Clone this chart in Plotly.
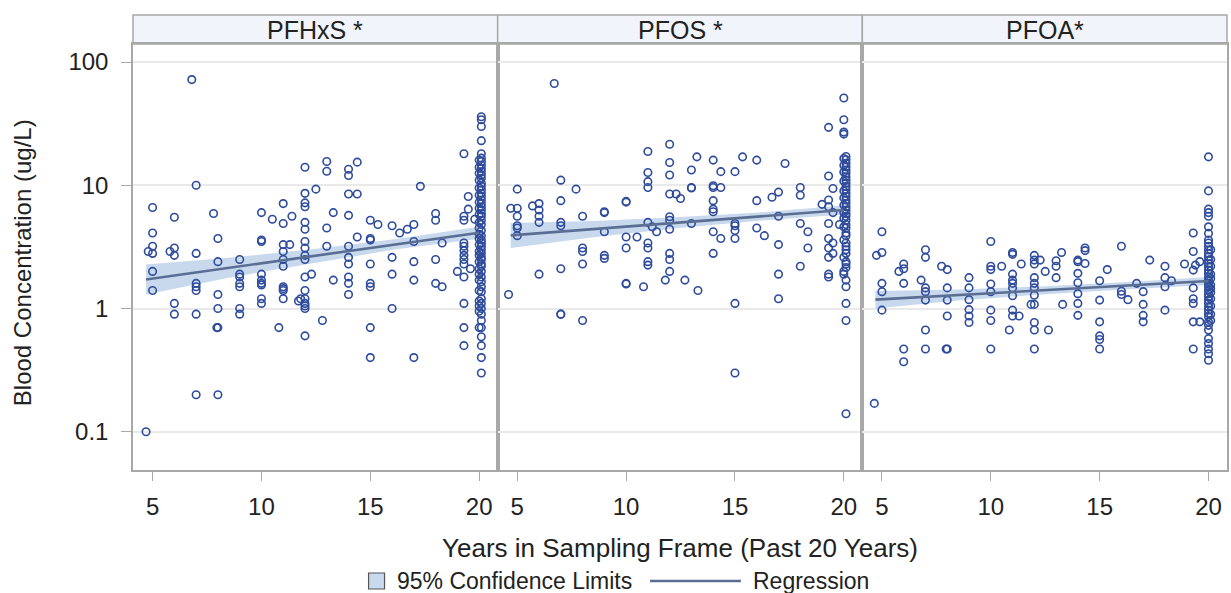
import plotly.graph_objects as go
from plotly.subplots import make_subplots

# ---------------- data ----------------
PANELS = ["PFHxS *", "PFOS *", "PFOA*"]

# x position of each column of points, and the concentrations at that x
PFHXS_X = [4.7, 4.8, 5.0, 5.8, 6.0, 6.8, 7.0, 7.8, 7.95, 8.0, 9.0, 10.0, 10.5, 10.8, 11.0, 11.3, 11.4,
           11.7, 11.8, 12.0, 12.3, 12.5, 12.8, 13.0, 13.3, 14.0, 14.4, 15.0, 15.35, 16.0, 16.35, 16.7,
           17.0, 17.3, 18.0, 18.3, 19.0, 19.3, 19.5, 19.6, 19.8, 20.0, 20.1]
PFHXS_Y = [[0.1], [2.9], [6.6, 4.1, 3.2, 2.8, 2.0, 1.4], [2.9], [5.5, 3.1, 2.7, 1.1, 0.9], [72],
           [10, 2.8, 1.6, 1.5, 1.4, 0.9, 0.2], [5.9], [0.7], [3.7, 2.4, 1.3, 1.0, 0.7, 0.2],
           [2.5, 1.9, 1.8, 1.6, 1.5, 1.0, 0.9], [6.0, 3.6, 3.5, 1.9, 1.7, 1.6, 1.55, 1.2, 1.1], [5.3], [0.7],
           [7.1, 4.9, 3.3, 2.9, 2.5, 2.2, 1.5, 1.45, 1.4, 1.2], [3.3], [5.6], [1.15], [1.2],
           [14, 8.6, 7.2, 6.7, 5.0, 4.4, 3.5, 3.1, 2.7, 2.5, 1.8, 1.4, 1.2, 1.1, 1.05, 1.0, 0.6],
           [1.9], [9.3], [0.8], [15.6, 13, 4.5, 3.2], [6.0, 1.7],
           [13.5, 12, 8.5, 5.7, 3.2, 2.6, 2.3, 1.8, 1.6, 1.3], [15.4, 8.5, 3.8],
           [5.2, 3.7, 3.6, 2.3, 1.6, 1.5, 0.7, 0.4], [4.8], [4.7, 2.6, 1.9, 1.0], [4.1], [4.4],
           [4.8, 3.5, 2.4, 1.7, 0.4], [9.8], [5.9, 5.2, 2.5, 1.6], [3.4, 1.5], [2.0],
           [18, 5.6, 5.2, 3.4, 3.2, 2.95, 2.7, 2.5, 2.3, 1.8, 1.1, 0.7, 0.5], [8.1, 6.4], [2.1], [5.3],
           [16, 14, 12.5, 11, 9.5, 8.3, 7.3, 6.5, 5.8, 5.0, 4.5, 4.0, 3.7, 3.3, 2.9, 2.7, 2.4, 2.1, 1.9,
            1.7, 1.4, 1.15, 1.05, 0.95, 0.7],
           [36, 34, 30, 23, 18, 16.6, 15.6, 14.6, 13.7, 12.9, 12.1, 11.4, 10.4, 9.8, 9.2, 8.6, 8.1, 7.6,
            7.1, 6.7, 6.3, 5.9, 5.6, 5.2, 4.8, 4.3, 3.9, 3.6, 3.4, 3.2, 3.0, 2.8, 2.6, 2.5, 2.3, 2.2, 2.0,
            1.8, 1.65, 1.5, 1.37, 1.2, 1.1, 1.0, 0.9, 0.8, 0.7, 0.59, 0.5, 0.4, 0.3]]

PFOS_X = [4.6, 4.7, 5.0, 5.7, 6.0, 6.7, 7.0, 7.7, 8.0, 9.0, 10.0, 10.5, 10.8, 11.0, 11.2, 11.4, 11.8,
          12.0, 12.3, 12.5, 12.7, 13.0, 13.25, 13.3, 14.0, 14.35, 15.0, 15.35, 16.0, 16.35, 16.7, 17.0,
          17.3, 18.0, 18.35, 19.0, 19.3, 19.5, 19.8, 20.0, 20.1]
PFOS_Y = [[1.3], [6.5], [9.3, 6.5, 5.6, 4.7, 4.5, 3.9], [6.8], [7.1, 6.3, 5.6, 5.0, 1.9], [67],
          [11, 7.5, 5.0, 4.7, 2.1, 0.9, 0.9], [9.3], [5.6, 3.1, 2.9, 2.3, 0.8], [6.1, 6.0, 4.2, 2.7, 2.55],
          [7.4, 7.3, 3.8, 3.1, 1.6, 1.58], [3.8], [1.5], [18.8, 12.7, 10.7, 9.6, 5.0, 3.4, 3.1, 2.4, 2.25],
          [4.6], [4.2], [1.7], [21.5, 15.3, 12.1, 8.5, 5.55, 5.2, 4.4, 2.8, 2.5, 2.0], [8.5], [7.8], [1.7],
          [13.3, 9.6, 9.5, 4.9], [17], [1.4], [16, 9.9, 9.6, 7.5, 6.4, 6.1, 4.2, 2.8], [12.9, 9.6, 3.7],
          [12.9, 4.9, 4.7, 4.3, 3.7, 1.1, 0.3], [17], [16, 7.5, 4.5], [3.9], [8.0], [8.8, 5.6, 3.3, 1.9, 1.2],
          [15], [9.6, 8.3, 4.9, 2.2], [4.2, 3.1], [7.0],
          [29.5, 11.9, 7.6, 6.7, 4.9, 3.7, 3.1, 2.6, 1.9, 1.8], [9.4, 6.0, 3.4, 2.8], [4.8],
          [51, 34, 27, 26, 16.5, 14.5, 12.8, 10.8, 9.0, 7.9, 6.9, 6.0, 5.4, 4.6, 3.6, 2.6, 2.0, 1.9],
          [17.1, 16.1, 15.1, 14.1, 13.3, 12.5, 11.7, 11.0, 10.4, 9.75, 9.2, 8.6, 8.1, 7.6, 7.1, 6.7, 6.3,
           5.9, 5.6, 5.2, 4.8, 4.5, 4.1, 3.9, 3.4, 3.2, 3.0, 2.8, 2.4, 2.3, 2.15, 1.7, 1.5, 1.1, 0.8, 0.14]]

PFOA_X = [4.65, 4.75, 5.0, 5.78, 6.0, 6.8, 7.0, 7.74, 7.95, 8.0, 9.0, 10.0, 10.5, 10.85, 11.0, 11.3,
          11.4, 11.85, 12.0, 12.27, 12.5, 12.65, 13.0, 13.25, 13.3, 14.0, 14.33, 15.0, 15.35, 16.0, 16.3,
          16.7, 17.0, 17.3, 18.0, 18.3, 18.9, 19.3, 19.4, 19.6, 20.0, 20.1]
PFOA_Y = [[0.17], [2.7], [4.2, 2.85, 1.6, 1.37, 0.97], [2.0], [2.3, 2.1, 1.6, 0.47, 0.37], [1.7],
          [3.0, 2.6, 1.47, 1.37, 1.17, 0.67, 0.47], [2.2], [0.47], [2.07, 1.47, 1.17, 0.87, 0.47],
          [1.78, 1.47, 1.18, 0.98, 0.87, 0.77], [3.5, 2.2, 2.07, 1.58, 1.37, 0.97, 0.8, 0.47], [2.2], [0.67],
          [2.85, 2.75, 1.9, 1.7, 1.6, 1.47, 1.27, 0.97, 0.87], [0.87], [2.3], [1.08],
          [2.7, 2.47, 2.3, 1.78, 1.6, 1.47, 1.28, 1.08, 0.77, 0.67, 0.47], [2.47], [2.0], [0.67],
          [2.44, 2.2, 1.78], [2.85], [1.08], [2.47, 2.4, 1.93, 1.62, 1.32, 1.1, 0.88], [3.1, 2.95, 2.32],
          [1.68, 1.17, 0.78, 0.6, 0.56, 0.47], [2.07], [3.2, 1.38, 1.3], [1.18], [1.6],
          [1.37, 1.08, 0.88, 0.78], [2.47], [2.2, 1.78, 1.5, 0.97], [1.68], [2.3],
          [4.1, 2.9, 2.05, 1.47, 1.2, 1.1, 0.78, 0.47], [2.25], [2.4, 0.78],
          [17, 9.0, 6.4, 6.0, 5.6, 4.6, 4.07, 3.6, 3.4, 3.2, 2.98, 2.8, 2.63, 2.47, 2.32, 2.18, 2.05, 1.93,
           1.81, 1.7, 1.6, 1.5, 1.41, 1.32, 1.24, 1.17, 1.1, 1.03, 0.97, 0.91, 0.86, 0.78, 0.73, 0.67, 0.57,
           0.52, 0.47, 0.43, 0.38],
          [3.0, 2.5, 2.2, 1.9, 1.75, 1.55, 1.45, 1.35, 1.2, 1.05, 0.9, 0.8]]

# regression fit and 95% confidence limits
FIT_X = [4.7, 8.5, 12.3, 16.1, 20.0]
PFHXS_FIT = [1.72, 2.14, 2.66, 3.31, 4.12]
PFHXS_LO = [1.30, 1.78, 2.33, 3.01, 3.68]
PFHXS_HI = [2.28, 2.58, 3.03, 3.64, 4.61]
PFOS_FIT = [3.92, 4.41, 4.95, 5.57, 6.30]
PFOS_LO = [3.10, 3.79, 4.47, 5.16, 5.78]
PFOS_HI = [4.95, 5.12, 5.50, 6.01, 6.85]
PFOA_FIT = [1.18, 1.29, 1.40, 1.53, 1.67]
PFOA_LO = [1.00, 1.16, 1.30, 1.43, 1.55]
PFOA_HI = [1.39, 1.43, 1.51, 1.63, 1.80]

X_TICKS = [5, 10, 15, 20]
Y_TICKS = [0.1, 1, 10, 100]
Y_TICK_TEXT = ["0.1", "1", "10", "100"]

# ---------------- figure ----------------
FONT = "Liberation Sans, Arial, sans-serif"
MARKER = "#2f4c9c"
LINE = "#5a6e94"
BAND = "rgba(170,196,228,0.65)"
FRAME = "#a8a8a8"
TXT = "#222"

series = [
    (PFHXS_X, PFHXS_Y, PFHXS_FIT, PFHXS_LO, PFHXS_HI),
    (PFOS_X, PFOS_Y, PFOS_FIT, PFOS_LO, PFOS_HI),
    (PFOA_X, PFOA_Y, PFOA_FIT, PFOA_LO, PFOA_HI),
]

fig = make_subplots(rows=1, cols=3, shared_yaxes=True, horizontal_spacing=0)

for i, (cx, cy, fit, lo, hi) in enumerate(series):
    col = i + 1
    xs = [x for x, ys in zip(cx, cy) for _ in ys]
    ys = [y for ys_ in cy for y in ys_]
    fig.add_trace(go.Scatter(x=FIT_X + FIT_X[::-1], y=hi + lo[::-1], fill="toself",
                             fillcolor=BAND, line=dict(width=0), mode="lines",
                             hoverinfo="skip", showlegend=False), row=1, col=col)
    fig.add_trace(go.Scatter(x=xs, y=ys, mode="markers", showlegend=False,
                             marker=dict(symbol="circle-open", size=7.5, color=MARKER,
                                         line=dict(width=1.6, color=MARKER))),
                  row=1, col=col)
    fig.add_trace(go.Scatter(x=FIT_X, y=fit, mode="lines", showlegend=False,
                             line=dict(color=LINE, width=2.6)), row=1, col=col)

fig.update_xaxes(range=[4.1, 20.85], tickvals=X_TICKS, ticks="outside", ticklen=9,
                 tickcolor=FRAME, tickwidth=1.2, showline=True, mirror=True, linecolor=FRAME,
                 linewidth=1.5, showgrid=False, zeroline=False, ticklabelstandoff=5,
                 tickfont=dict(family=FONT, size=24, color=TXT))
fig.update_yaxes(type="log", range=[-1.31, 2.146], tickvals=Y_TICKS, ticktext=Y_TICK_TEXT,
                 showline=True, mirror=True, linecolor=FRAME, linewidth=1.5,
                 showgrid=True, gridcolor="#e9e9e9", gridwidth=1.5, zeroline=False,
                 tickfont=dict(family=FONT, size=24, color=TXT))
fig.update_yaxes(ticks="outside", ticklen=10, tickcolor=FRAME, tickwidth=1.2,
                 ticklabelstandoff=8, row=1, col=1)
fig.update_yaxes(showticklabels=False, ticks="", row=1, col=2)
fig.update_yaxes(showticklabels=False, ticks="", row=1, col=3)

W, H = 1231, 593
L, R, T, B = 133, 2, 44, 123
pw, ph = W - L - R, H - T - B


def px(xp):
    return (xp - L) / pw


def py(yp):
    return (H - B - yp) / ph


shapes = []
annotations = []
strip_top = py(15)
for i, name in enumerate(PANELS):
    x0, x1 = i / 3, (i + 1) / 3
    shapes.append(dict(type="rect", xref="paper", yref="paper", x0=x0, x1=x1, y0=1, y1=strip_top,
                       fillcolor="#f1f4fa", line=dict(color=FRAME, width=1.5), layer="below"))
    annotations.append(dict(text=name, xref="paper", yref="paper", x=(x0 + x1) / 2, y=(1 + strip_top) / 2,
                            showarrow=False, xanchor="center", yanchor="middle",
                            font=dict(family=FONT, size=25, color=TXT)))

# axis titles
annotations.append(dict(text="Years in Sampling Frame (Past 20 Years)", xref="paper", yref="paper",
                        x=0.5, y=py(548), showarrow=False, xanchor="center", yanchor="middle",
                        font=dict(family=FONT, size=26, color=TXT)))
annotations.append(dict(text="Blood Concentration (ug/L)", xref="paper", yref="paper",
                        x=px(22), y=py(263), showarrow=False, xanchor="center", yanchor="middle",
                        textangle=-90, font=dict(family=FONT, size=24, color=TXT)))

# legend
shapes.append(dict(type="rect", xref="paper", yref="paper", x0=px(369), x1=px(385), y0=py(573), y1=py(589),
                   fillcolor="#c9d9ee", line=dict(color="#555", width=1.2)))
annotations.append(dict(text="95% Confidence Limits", xref="paper", yref="paper", x=px(395), y=py(581),
                        showarrow=False, xanchor="left", yanchor="middle",
                        font=dict(family=FONT, size=23, color=TXT)))
shapes.append(dict(type="line", xref="paper", yref="paper", x0=px(651), x1=px(742), y0=py(581), y1=py(581),
                   line=dict(color=LINE, width=2.6)))
annotations.append(dict(text="Regression", xref="paper", yref="paper", x=px(752), y=py(581),
                        showarrow=False, xanchor="left", yanchor="middle",
                        font=dict(family=FONT, size=23, color=TXT)))

fig.update_layout(width=W, height=H, margin=dict(l=L, r=R, t=T, b=B),
                  plot_bgcolor="white", paper_bgcolor="white", showlegend=False,
                  shapes=shapes, annotations=annotations, font=dict(family=FONT))

fig.write_html("out.html")
